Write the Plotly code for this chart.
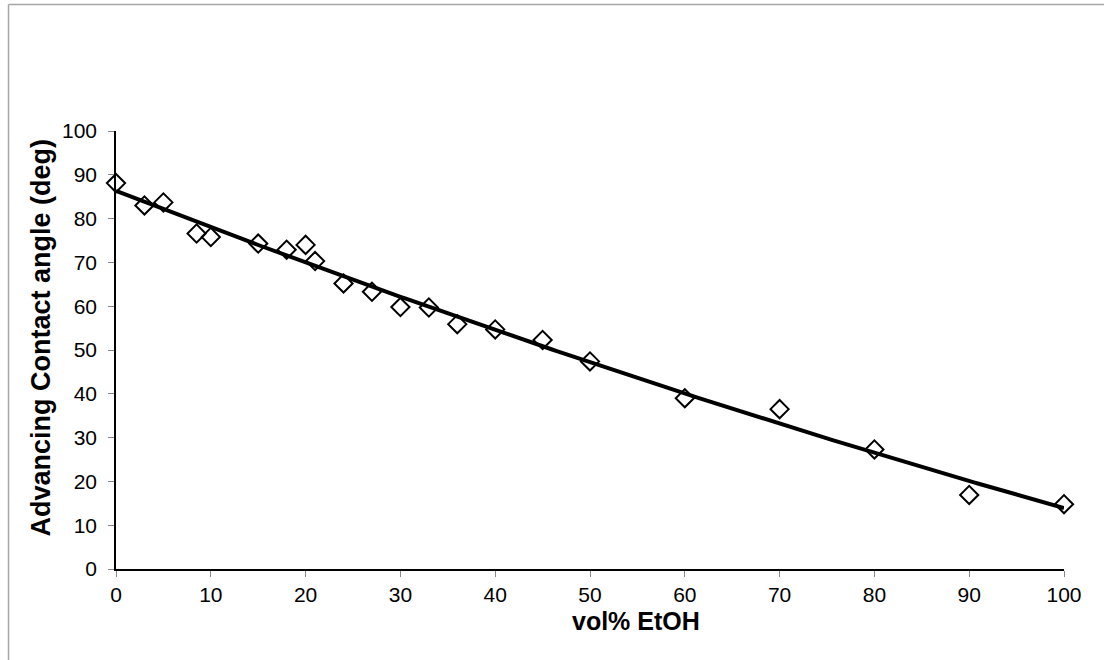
import numpy as np
import plotly.graph_objects as go

# data
vol_etoh = [0, 3, 5, 8.5, 10, 15, 18, 20, 21, 24, 27, 30, 33, 36, 40, 45, 50, 60, 70, 80, 90, 100]
contact_angle = [88.1, 83.0, 83.7, 76.6, 75.8, 74.3, 72.9, 74.0, 70.3, 65.2, 63.3, 59.8, 59.7, 55.9,
                 54.7, 52.3, 47.4, 39.0, 36.5, 27.3, 16.9, 14.8]
x_ticks = [0, 10, 20, 30, 40, 50, 60, 70, 80, 90, 100]
y_ticks = [0, 10, 20, 30, 40, 50, 60, 70, 80, 90, 100]

# 2nd-order polynomial trendline fitted to the data
coef = np.polyfit(vol_etoh, contact_angle, 2)
fit_x = np.linspace(0, 100, 201)
fit_y = np.polyval(coef, fit_x)

W, H = 1104, 660
L, R, T, B = 116, 1064, 131, 569

FONT = "Liberation Sans, Arial, sans-serif"

fig = go.Figure()
fig.add_trace(go.Scatter(x=fit_x, y=fit_y, mode="lines",
                         line=dict(color="black", width=4), showlegend=False,
                         cliponaxis=False))
fig.add_trace(go.Scatter(x=vol_etoh, y=contact_angle, mode="markers",
                         marker=dict(symbol="diamond-open", size=14, color="black",
                                     line=dict(width=2, color="black")),
                         showlegend=False, cliponaxis=False))

def px_to_paper_x(px):
    return (px - L) / (R - L)

def px_to_paper_y(py):
    return (B - py) / (B - T)

frame_x = px_to_paper_x(8.5)
frame_y = px_to_paper_y(4.5)
fig.add_shape(type="line", xref="paper", yref="paper", x0=frame_x, x1=px_to_paper_x(1110),
              y0=frame_y, y1=frame_y, line=dict(color="#a6a6a6", width=1.5))
fig.add_shape(type="line", xref="paper", yref="paper", x0=frame_x, x1=frame_x,
              y0=frame_y, y1=px_to_paper_y(670), line=dict(color="#a6a6a6", width=1.5))

fig.add_annotation(text="<b>vol% EtOH</b>", xref="paper", yref="paper",
                   x=px_to_paper_x(636), y=px_to_paper_y(621), showarrow=False,
                   font=dict(family=FONT, size=25, color="black"),
                   xanchor="center", yanchor="middle")
fig.add_annotation(text="<b>Advancing Contact angle (deg)</b>", xref="paper", yref="paper",
                   x=px_to_paper_x(40), y=px_to_paper_y(337.5), showarrow=False, textangle=-90,
                   font=dict(family=FONT, size=27, color="black"),
                   xanchor="center", yanchor="middle")

axis_common = dict(showgrid=False, zeroline=False, showline=True, linecolor="black", linewidth=1.5,
                   ticks="outside", ticklen=6, tickwidth=1, tickcolor="#888888",
                   tickfont=dict(family=FONT, size=21, color="black"), mirror=False)

fig.update_xaxes(range=[0, 100], tickvals=x_ticks, ticktext=[str(v) for v in x_ticks], **axis_common)
fig.update_yaxes(range=[0, 100], tickvals=y_ticks, ticktext=[str(v) for v in y_ticks],
                 ticklabelstandoff=7, **axis_common)

fig.update_layout(width=W, height=H, margin=dict(l=L, r=W - R, t=T, b=H - B, pad=0),
                  plot_bgcolor="white", paper_bgcolor="white", hovermode=False,
                  font=dict(family=FONT, color="black"))

fig.write_html("out.html", config={"displayModeBar": False},
               post_script="document.body.style.margin='0';document.body.style.overflow='hidden';")
